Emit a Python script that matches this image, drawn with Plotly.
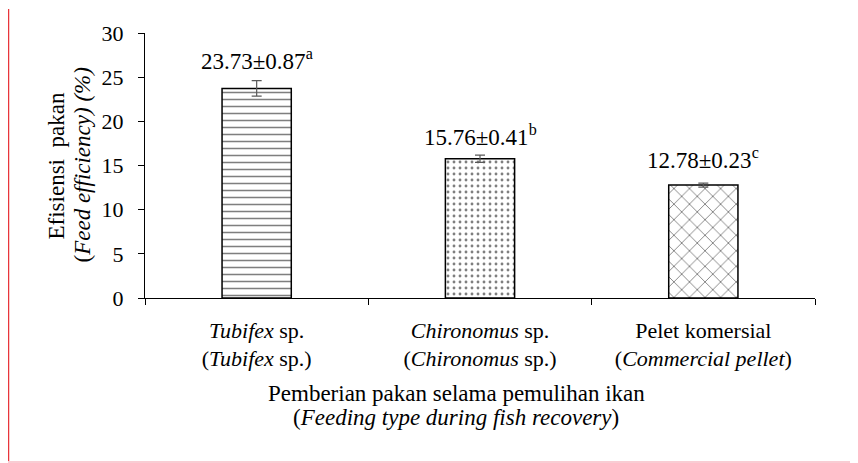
import plotly.graph_objects as go

categories = ["Tubifex", "Chironomus", "Pelet"]
tick_labels = [
    "<i>Tubifex</i> sp.<br>(<i>Tubifex</i> sp.)",
    "<i>Chironomus</i> sp.<br>(<i>Chironomus</i> sp.)",
    "Pelet komersial<br>(<i>Commercial pellet</i>)",
]
values = [23.73, 15.76, 12.78]
errors = [0.87, 0.41, 0.23]
letters = ["a", "b", "c"]
patterns = ["-", ".", "x"]
y_title_lines = ["Efisiensi  pakan", "(<i>Feed efficiency) (%)</i>"]
x_title_lines = ["Pemberian pakan selama pemulihan ikan", "(<i>Feeding type during fish recovery</i>)"]

FONT = "Liberation Serif"

# page is drawn with an 8px body offset; plot area in figure px
L, T, PW, PH = 137, 25, 670, 265
W, H = 850, 455


def px_x(x):
    return (x - L) / PW


def px_y(y):
    return (T + PH - y) / PH


fig = go.Figure()
fig.add_trace(go.Bar(
    x=categories, y=values,
    marker=dict(
        color="white",
        line=dict(color="black", width=1.5),
        pattern=dict(shape=patterns, fgcolor="black", bgcolor="white",
                     size=[7, 6, 11], solidity=[0.22, 0.18, 0.16], fillmode="overlay"),
    ),
    error_y=dict(type="data", array=errors, visible=True, color="#595959", thickness=1.2, width=5),
    width=0.31,
    showlegend=False,
))

yshifts = [5, 3, 8]
for c, v, e, l, ys in zip(categories, values, errors, letters, yshifts):
    fig.add_annotation(
        x=c, y=v + e, yref="y", xref="x",
        text=f"{v:.2f}±{e:.2f}<sup>{l}</sup>",
        showarrow=False, yanchor="bottom", yshift=ys,
        font=dict(family=FONT, size=23, color="black"),
    )

# y-axis title (two lines, tight spacing)
for xpos, line in zip([48, 74], y_title_lines):
    fig.add_annotation(
        xref="paper", yref="paper", x=px_x(xpos), y=0.5, xanchor="center", yanchor="middle",
        text=line, textangle=-90,
        showarrow=False, font=dict(family=FONT, size=23, color="black"),
    )
# x-axis title
for ypos, line in zip([385, 409], x_title_lines):
    fig.add_annotation(
        xref="paper", yref="paper", x=px_x(448), y=px_y(ypos), xanchor="center", yanchor="middle",
        text=line,
        showarrow=False, font=dict(family=FONT, size=23, color="black"),
    )

# decorative page borders
fig.add_shape(type="line", xref="paper", yref="paper",
              x0=px_x(0.5), x1=px_x(0.5), y0=px_y(1), y1=px_y(456),
              line=dict(color="#e8353b", width=1.5))
fig.add_shape(type="line", xref="paper", yref="paper",
              x0=px_x(0), x1=px_x(850), y0=px_y(454), y1=px_y(454),
              line=dict(color="#f9ccd3", width=2))

fig.update_layout(
    width=W, height=H,
    margin=dict(l=L, r=W - L - PW, t=T, b=H - T - PH),
    paper_bgcolor="white", plot_bgcolor="white",
    font=dict(family=FONT, size=22, color="black"),
    xaxis=dict(
        tickmode="array", tickvals=categories, ticktext=tick_labels,
        showline=True, linecolor="black", linewidth=1.2,
        ticks="outside", tickson="boundaries", ticklen=6, tickcolor="black",
        tickfont=dict(family=FONT, size=22),
        ticklabelstandoff=12,
        showgrid=False,
    ),
    yaxis=dict(
        range=[0, 30], dtick=5, tick0=0,
        showline=True, linecolor="black", linewidth=1.2,
        ticks="outside", ticklen=6, tickcolor="black",
        tickfont=dict(family=FONT, size=22),
        ticklabelstandoff=10,
        showgrid=False, zeroline=False,
    ),
)

fig.write_html("out.html")
